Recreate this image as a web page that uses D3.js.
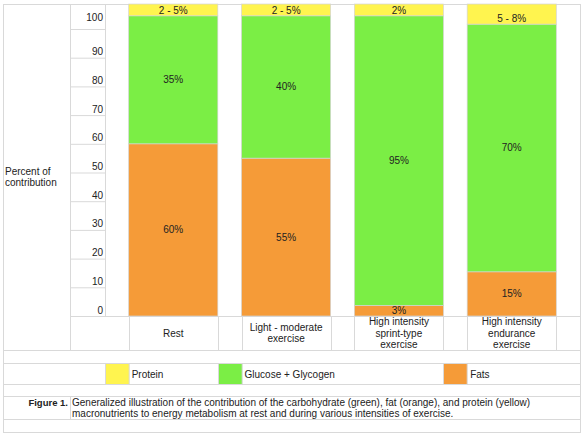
<!DOCTYPE html>
<html>
<head>
<meta charset="utf-8">
<script src="https://d3js.org/d3.v7.min.js"></script>
<style>
  body { margin: 0; background: #fff; }
  svg { display: block; font-family: "Liberation Sans", Arial, sans-serif; font-size: 10px; fill: #222; }
  .grid { stroke: #d9d9d9; stroke-width: 1; }
</style>
</head>
<body>
<script>
// categories (line breaks mark the wrapped labels)
var categories = ["Rest", "Light - moderate\nexercise", "High intensity\nsprint-type\nexercise", "High intensity\nendurance\nexercise"];

// segment sizes, in axis units
var fats    = [60, 55, 3.7, 15.4];
var glucose = [44.6, 49.6, 100.9, 86.3];
var protein = [4.1, 4.1, 4.1, 7];

// printed labels
var fatLabels     = ["60%", "55%", "3%", "15%"];
var glucoseLabels = ["35%", "40%", "95%", "70%"];
var proteinLabels = ["2 - 5%", "2 - 5%", "2%", "5 - 8%"];

var yTicks = [0, 10, 20, 30, 40, 50, 60, 70, 80, 90, 100];
var seriesKeys  = ["fats", "glucose", "protein"];
var legendNames = ["Protein", "Glucose + Glycogen", "Fats"];
var yTitle = ["Percent of", "contribution"];
var captionLead = "Figure 1.";
var captionText = ["Generalized illustration of the contribution of the carbohydrate (green), fat (orange), and protein (yellow)",
                   "macronutrients to energy metabolism at rest and during various intensities of exercise."];

var colors = { fats: "#f59b38", glucose: "#7bee45", protein: "#fff44f" };
var labels = { fats: fatLabels, glucose: glucoseLabels, protein: proteinLabels };

var width = 584, height = 436;
var L = 3, R = 580, T = 4, B = 432;

var svg = d3.select("body").append("svg")
    .attr("width", width)
    .attr("height", height);

var x = d3.scaleBand().domain(categories).range([105, 580]).paddingInner(0.21).paddingOuter(0.21);
var y = d3.scaleLinear().domain([0, 100]).range([316, 29]);
var gap = x.step() - x.bandwidth();

var rows = categories.map(function(c, i) {
  return { cat: c, i: i, fats: fats[i], glucose: glucose[i], protein: protein[i] };
});
var stacked = d3.stack().keys(seriesKeys)(rows);

/*
  spreadsheet grid
*/
var grid = svg.append("g").attr("class", "grid");
function hline(yy, x1, x2) { grid.append("line").attr("x1", x1).attr("x2", x2).attr("y1", yy + 0.5).attr("y2", yy + 0.5); }
function vline(xx, y1, y2) { grid.append("line").attr("x1", xx + 0.5).attr("x2", xx + 0.5).attr("y1", y1).attr("y2", y2); }

[T, 350, 363, 384, 396, 419, B].forEach(function(yy) { hline(yy, L, R + 1); });
hline(y(0), 70, R);
vline(L, T, B + 1);
vline(R, T, B + 1);
vline(70, T, 350);
vline(105, T, y(0));
vline(70, 396, 419);

// category row separators follow the bar edges
categories.forEach(function(c) {
  vline(Math.round(x(c)), y(0), 350);
  vline(Math.round(x(c) + x.bandwidth()), y(0), 350);
});

/*
  y axis, drawn into its own column
*/
var yAxis = svg.append("g")
    .attr("transform", "translate(105,0)")
    .call(d3.axisLeft(y).tickValues(yTicks).tickSize(35).tickFormat(d3.format("d")));
yAxis.select(".domain").remove();
yAxis.selectAll(".tick line").attr("stroke", "#d9d9d9");
yAxis.selectAll(".tick text")
    .attr("x", -2)
    .attr("dy", function(d) { return d === 100 ? -9 : -3; })  // top cell is middle-aligned
    .attr("fill", "#222")
    .style("font-size", "10px")
    .style("font-family", "Liberation Sans, Arial, sans-serif");

svg.append("text")
    .selectAll("tspan").data(yTitle).join("tspan")
    .attr("x", 5)
    .attr("y", function(d, i) { return 175 + i * 11; })
    .text(function(d) { return d; });

/*
  stacked bars
*/
var layer = svg.append("g").selectAll("g").data(stacked).join("g")
    .attr("fill", function(s) { return colors[s.key]; });

layer.selectAll("rect").data(function(s) { return s; }).join("rect")
    .attr("x", function(d) { return x(d.data.cat); })
    .attr("y", function(d) { return y(d[1]); })
    .attr("width", x.bandwidth())
    .attr("height", function(d) { return y(d[0]) - y(d[1]); })
    .attr("stroke", "#d4d4d4")
    .attr("stroke-width", 0.7);

layer.selectAll("text").data(function(s) { return s.map(function(d) { d.key = s.key; return d; }); }).join("text")
    .attr("x", function(d) { return x(d.data.cat) + x.bandwidth() / 2; })
    .attr("y", function(d) {
      if (d.key === "protein") return y(d[0]) - 2;
      return (y(d[0]) + y(d[1])) / 2 + 3.5;
    })
    .attr("text-anchor", "middle")
    .attr("fill", "#222")
    .text(function(d) { return labels[d.key][d.data.i]; });

/*
  category labels
*/
svg.append("g").selectAll("text").data(categories).join("text")
    .attr("text-anchor", "middle")
    .each(function(c) {
      var lines = c.split("\n");
      var y0 = 336.5 - (lines.length - 1) * 11.3 / 2;
      d3.select(this).selectAll("tspan").data(lines).join("tspan")
        .attr("x", x(c) + x.bandwidth() / 2)
        .attr("y", function(d, i) { return y0 + i * 11.3; })
        .text(function(d) { return d; });
    });

/*
  legend, swatches sit in the gap columns
*/
var legendCols = [categories[0], categories[1], categories[3]];
var lg = svg.append("g").selectAll("g").data(legendNames).join("g");
lg.append("rect")
    .attr("x", function(d, i) { return Math.round(x(legendCols[i]) - gap) + 0.5; })
    .attr("y", 363.5)
    .attr("width", gap)
    .attr("height", 21)
    .attr("fill", function(d, i) { return colors[seriesKeys[2 - i]]; })
    .attr("stroke", "#d9d9d9");
lg.append("text")
    .attr("x", function(d, i) { return x(legendCols[i]) + 3; })
    .attr("y", 377.5)
    .text(function(d) { return d; });

/*
  caption
*/
svg.append("text")
    .attr("x", 68)
    .attr("y", 406)
    .attr("text-anchor", "end")
    .attr("font-weight", "bold")
    .style("font-size", "9.5px")
    .text(captionLead);
svg.append("text")
    .style("font-size", "10px")
    .selectAll("tspan").data(captionText).join("tspan")
    .attr("x", 72)
    .attr("y", function(d, i) { return 406 + i * 11; })
    .text(function(d) { return d; });
</script>
</body>
</html>
